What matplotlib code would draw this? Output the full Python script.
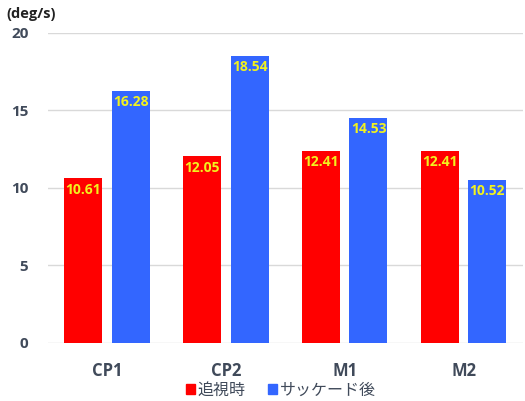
import numpy as np
import matplotlib.pyplot as plt
from matplotlib.patches import Patch

plt.rcParams['font.family'] = ['Open Sans', 'Noto Sans CJK JP', 'DejaVu Sans']

categories = ['CP1', 'CP2', 'M1', 'M2']
pursuit = [10.61, 12.05, 12.41, 12.41]
saccade = [16.28, 18.54, 14.53, 10.52]
series_names = ['追視時', 'サッケード後']

red = '#ff0000'
blue = '#3366ff'
txt = '#404a5a'

fig = plt.figure(figsize=(5.25, 4.01), dpi=100)
ax = fig.add_axes([0.091, 0.145, 0.905, 0.773])

x = np.arange(len(categories))
w = 0.32
off = 0.2
b1 = ax.bar(x - off, pursuit, w, color=red, zorder=2)
b2 = ax.bar(x + off, saccade, w, color=blue, zorder=2)

# value labels just inside the top of each bar
for bars, vals in [(b1, pursuit), (b2, saccade)]:
    for r, v in zip(bars, vals):
        ax.text(r.get_x() + r.get_width() / 2, v - 0.75, f'{v:.2f}',
                ha='center', va='center', color='#f2f21e',
                fontsize=10, fontweight='bold')

ax.set_xlim(-0.5, 3.5)
ax.set_ylim(0, 20)
ax.set_yticks([0, 5, 10, 15, 20])
ax.yaxis.grid(True, color='#d9d9d9', lw=1, zorder=0)
for s in ax.spines.values():
    s.set_visible(False)
ax.tick_params(length=0)
ax.tick_params(axis='y', pad=14, labelsize=11, labelcolor=txt)
ax.tick_params(axis='x', pad=14, labelsize=12, labelcolor=txt)
ax.set_xticks(x)
ax.set_xticklabels(categories, fontweight='bold')
for t in ax.get_yticklabels():
    t.set_fontweight('bold')

fig.text(0.012, 0.955, '(deg/s)', fontsize=10.5, fontweight='bold', color='#222222')

handles = [Patch(color=red), Patch(color=blue)]
leg = fig.legend(handles, series_names, loc='center', bbox_to_anchor=(0.535, 0.027),
                 ncol=2, frameon=False, fontsize=11.5, handlelength=0.55, handleheight=0.55,
                 handletextpad=0.2, columnspacing=1.4)
for t in leg.get_texts():
    t.set_color(txt)
    t.set_family(['Noto Sans CJK JP', 'DejaVu Sans'])

fig.savefig('out.png', dpi=100)
